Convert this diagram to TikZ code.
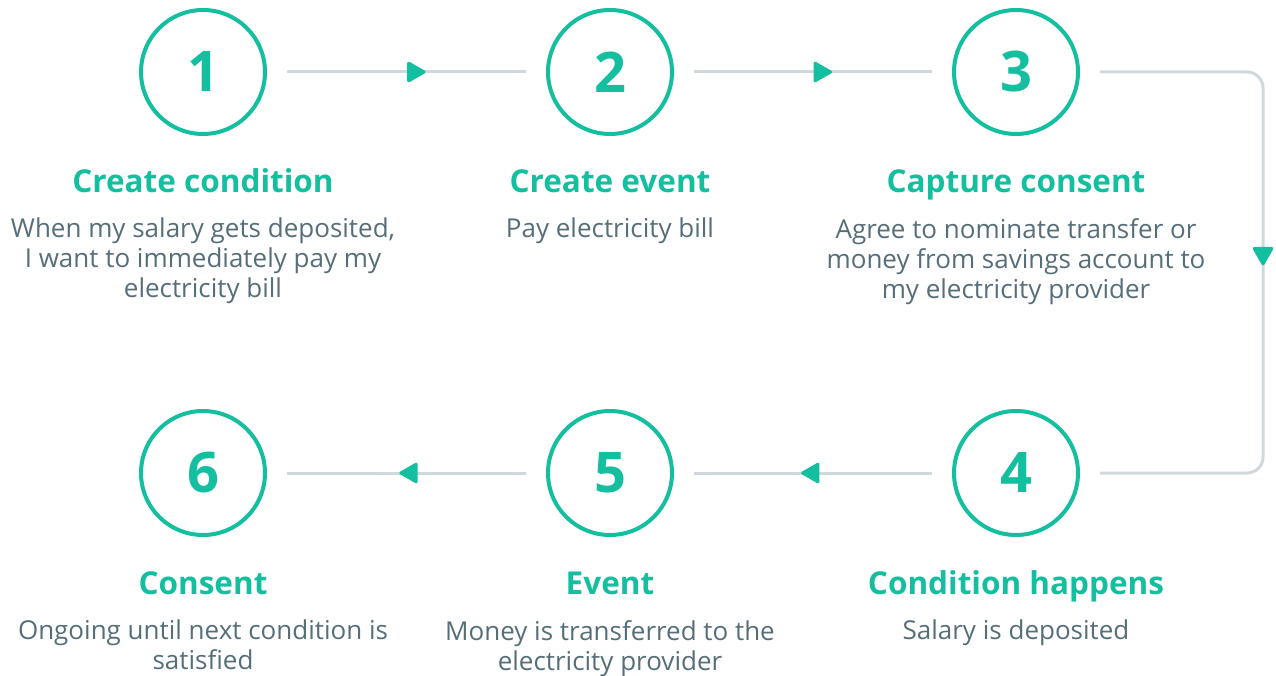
\documentclass[tikz,border=0pt]{standalone}
\usepackage{fontspec}
\setmainfont{Open Sans}
\usetikzlibrary{positioning, arrows.meta, decorations.markings}
\definecolor{mint}{HTML}{14BFA0}
\definecolor{slate}{HTML}{566E7A}
\definecolor{rail}{HTML}{CFD9DD}

\begin{document}
\begin{tikzpicture}[x=1pt,y=-1pt,
    stepring/.style={circle,draw=mint,line width=4pt,minimum size=124pt,
      inner sep=0pt,outer sep=22pt,text=mint,
      font=\fontsize{56}{56}\selectfont\bfseries},
    heading/.style={text=mint,anchor=base,inner sep=0pt,
      font=\fontsize{31.5}{34}\selectfont\bfseries},
    blurb/.style={text=slate,align=center,anchor=north,inner sep=0pt,
      font=\fontsize{26}{30}\selectfont},
    flow/.style={draw=rail,line width=3pt,postaction={decorate},
      decoration={markings,mark=at position #1 with
        {\arrow{Triangle[length=20pt,width=22pt,round,color=mint,fill=mint]}}}},
    flow/.default=0.58]

  \useasboundingbox (0,0) rectangle (1276,676);

  % the six steps
  \node[stepring] (c1) at (203,72)  {1};
  \node[stepring] (c2) at (610,72)  {2};
  \node[stepring] (c3) at (1016,72) {3};
  \node[stepring] (c4) at (1016,473) {4};
  \node[stepring] (c5) at (610,473) {5};
  \node[stepring] (c6) at (203,473) {6};

  % titles and descriptions
  \node[heading] (t1) at (203,193) {Create condition};
  \node[blurb]   (d1) at (203,218) {When my salary gets deposited,\\I want to immediately pay my\\electricity bill};
  \node[heading] (t2) at (610,193) {Create event};
  \node[blurb]   (d2) at (610,218) {Pay electricity bill};
  \node[heading] (t3) at (1016,193) {Capture consent};
  \node[blurb]   (d3) at (1016,218) {Agree to nominate transfer or\\money from savings account to\\my electricity provider};
  \node[heading] (t4) at (1016,594) {Condition happens};
  \node[blurb]   (d4) at (1016,620) {Salary is deposited};
  \node[heading] (t5) at (610,594) {Event};
  \node[blurb]   (d5) at (610,620) {Money is transferred to the\\electricity provider};
  \node[heading] (t6) at (203,594) {Consent};
  \node[blurb]   (d6) at (203,620) {Ongoing until next condition is\\satisfied};

  % connectors
  \coordinate (rt) at (1263,0);
  \draw[flow] (c1) -- (c2);
  \draw[flow] (c2) -- (c3);
  \draw[flow=0.49,rounded corners=16pt] (c3) -- (c3 -| rt) -- (c4 -| rt) -- (c4);
  \draw[flow=0.55] (c4) -- (c5);
  \draw[flow=0.53] (c5) -- (c6);

\end{tikzpicture}
\end{document}
